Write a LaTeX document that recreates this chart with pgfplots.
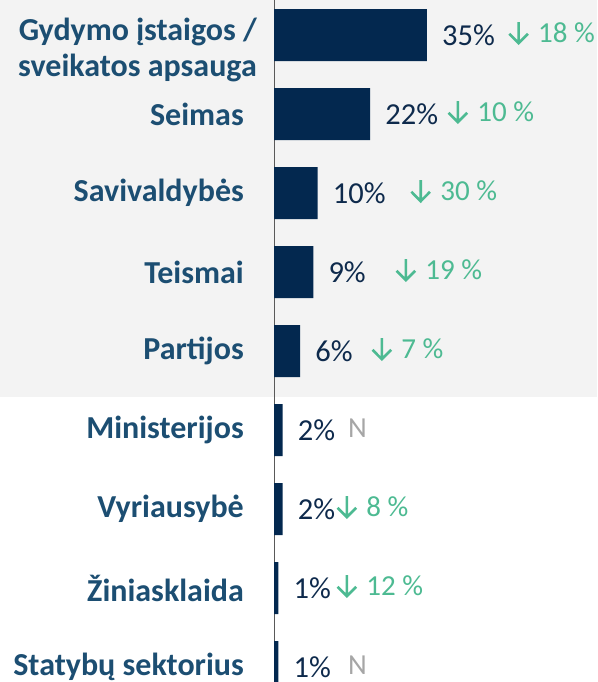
\documentclass[border=0pt]{standalone}
\usepackage{pgfplots}
\pgfplotsset{compat=1.18}
\usepackage{fontspec}
\setmainfont{Carlito}
\definecolor{barc}{HTML}{03284F}
\definecolor{valc}{HTML}{0E2A4C}
\definecolor{labc}{HTML}{1C4E72}
\definecolor{grn}{HTML}{4DBA92}
\definecolor{nc}{HTML}{A6A6A6}
\definecolor{bg}{HTML}{F3F3F3}
\newcommand{\dar}{\tikz[baseline=0pt,x=1pt,y=1pt]{\draw[grn, line width=2.6pt, miter limit=4] (0,20) -- (0,-1.2) (-9.3,8.2) -- (0,-1.2) -- (9.3,8.2);}}
\newcommand{\chg}[1]{\dar\hspace{9pt}#1}
\begin{document}
\begin{tikzpicture}[x=1pt,y=1pt]
\useasboundingbox (0,0) rectangle (597,682);
\clip (0,0) rectangle (597,682);
\fill[bg] (0,285) rectangle (597,682);
\begin{axis}[
  at={(274pt,-24.5pt)}, anchor=south west,
  scale only axis, width=262.2pt, height=711pt,
  xmin=0, xmax=60, ymin=-0.5, ymax=8.5, y dir=reverse,
  xbar, bar width=52pt,
  axis x line=none, axis y line*=left,
  y axis line style={draw=black!65, line width=0.9pt, -},
  major tick length=0pt,
  ytick={0,...,8},
  yticklabels={{}, Seimas, Savivaldybės, Teismai, Partijos, Ministerijos, Vyriausybė, Žiniasklaida, Statybų sektorius},
  yticklabel style={anchor=east, inner sep=0pt, xshift=-30pt, text=labc, font=\bfseries\fontsize{32}{36}\selectfont},
  clip=false,
  /pgf/number format/assume math mode=true,
  nodes near coords={\pgfmathprintnumber{\pgfplotspointmeta}\%},
  nodes near coords style={anchor=west, inner sep=0pt, xshift=15pt, text=valc, font=\fontsize{30.5}{36}\selectfont},
]
\addplot[fill=barc, draw=none] coordinates {
(35,0) (22,1) (10,2) (9,3) (6,4) (2,5) (2,6) (1,7) (1,8)};
\node[anchor=east, align=right, inner sep=0pt, xshift=-17pt, yshift=-15pt, text=labc, font=\bfseries\fontsize{32}{36}\selectfont] at (axis cs:0,0) {Gydymo įstaigos /\\sveikatos apsauga};
\begin{scope}[every node/.style={anchor=base west, inner sep=0pt, yshift=-7pt, text=grn, font=\fontsize{29}{34}\selectfont}]
\node at (axis cs:53.5,0) {\chg{18 \%}};
\node at (axis cs:39.6,1) {\chg{10 \%}};
\node at (axis cs:31.1,2) {\chg{30 \%}};
\node at (axis cs:27.7,3) {\chg{19 \%}};
\node at (axis cs:22.2,4) {\chg{7 \%}};
\node[text=nc] at (axis cs:16.9,5) {N};
\node at (axis cs:14.2,6) {\chg{8 \%}};
\node at (axis cs:14.2,7) {\chg{12 \%}};
\node[text=nc] at (axis cs:16.9,8) {N};
\end{scope}
\end{axis}
\end{tikzpicture}
\end{document}
